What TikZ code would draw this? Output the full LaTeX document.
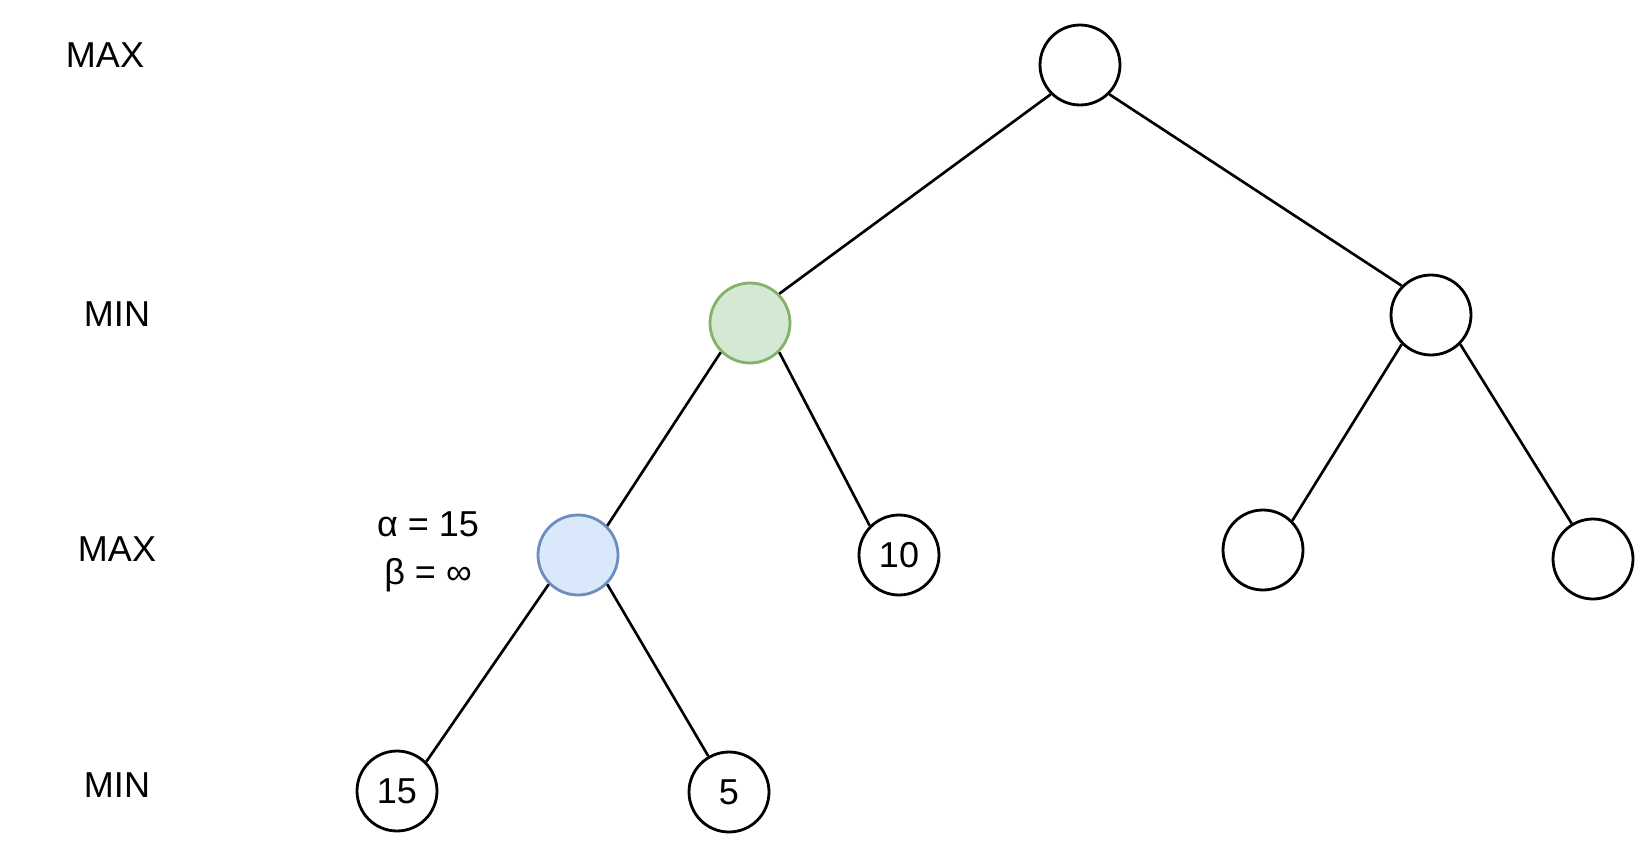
\documentclass[tikz,border=0pt]{standalone}
\usepackage{fontspec}
\setmainfont{Liberation Sans}
\usetikzlibrary{positioning}

\definecolor{maxfill}{HTML}{DAE8FC}
\definecolor{maxline}{HTML}{6C8EBF}
\definecolor{minfill}{HTML}{D5E8D4}
\definecolor{minline}{HTML}{82B366}

\tikzset{
  state/.style={circle,draw,fill=white,line width=1.6pt,minimum size=1.6cm,inner sep=0pt,
    font=\fontsize{20.5}{24}\selectfont},
  levelname/.style={font=\fontsize{20.5}{24}\selectfont},
  edge/.style={line width=1.5pt}
}

\begin{document}
\begin{tikzpicture}[x=0.02cm,y=-0.02cm]
      \useasboundingbox (0,0) rectangle (1650,852);
      % level names
      \node[levelname] (lvlA) at (105,55) {MAX};
      \node[levelname] (lvlB) at (117,314) {MIN};
      \node[levelname] (lvlC) at (117,549) {MAX};
      \node[levelname] (lvlD) at (117,785) {MIN};
      % tree
      \node[state] (root) at (1080,65) {};
      \node[state,fill=minfill,draw=minline] (minL) at (750,323) {};
      \node[state] (minR) at (1431,315) {};
      \node[state,fill=maxfill,draw=maxline] (maxL) at (578,555) {};
      \node[state] (ten) at (899,555) {10};
      \node[state] (maxRL) at (1263,550) {};
      \node[state] (maxRR) at (1593,559) {};
      \node[state] (leafA) at (397,791) {15};
      \node[state] (leafB) at (729,792) {5};
      % alpha-beta values
      \node[levelname,align=center] (ab) at (428,552) {α = 15\\[3pt]β = ∞};
      % edges
      \draw[edge] (root.225) -- (minL.45);
      \draw[edge] (root.315) -- (minR.135);
      \draw[edge] (minL.225) -- (maxL.45);
      \draw[edge] (minL.315) -- (ten.135);
      \draw[edge] (minR.225) -- (maxRL.45);
      \draw[edge] (minR.315) -- (maxRR.121);
      \draw[edge] (maxL.225) -- (leafA.45);
      \draw[edge] (maxL.315) -- (leafB.120);
    \end{tikzpicture}
\end{document}
